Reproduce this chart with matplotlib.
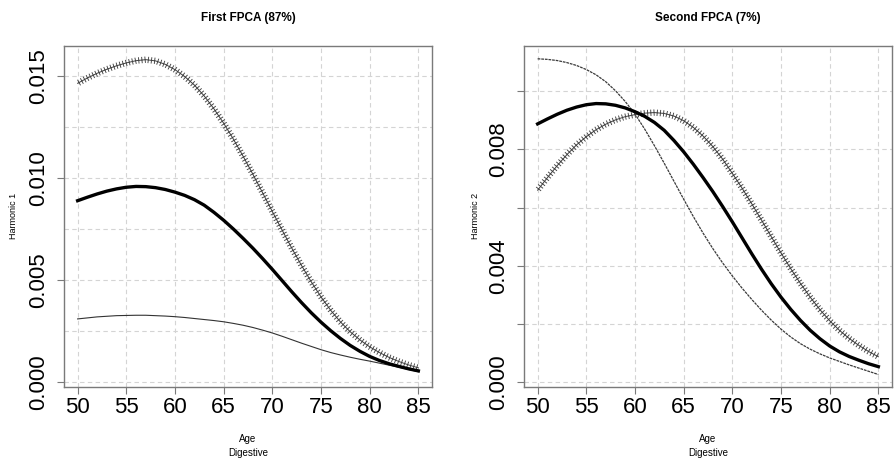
import matplotlib.pyplot as plt
import matplotlib.patheffects as pe

plt.rcParams['font.family'] = ['Liberation Sans', 'DejaVu Sans']

# ages 50..85, one value per year
age = list(range(50, 86))

mean_curve = [0.00888, 0.00905, 0.00921, 0.00935, 0.00946, 0.00954, 0.00958, 0.00957, 0.00952, 0.00943,
              0.00930, 0.00914, 0.00893, 0.00866, 0.00831, 0.00792, 0.00749, 0.00703, 0.00655, 0.00604,
              0.00551, 0.00496, 0.00441, 0.00388, 0.00338, 0.00292, 0.00250, 0.00212, 0.00178, 0.00149,
              0.00124, 0.00104, 0.00088, 0.00075, 0.00063, 0.00053]

# first harmonic: mean + / - perturbation
h1_plus = [0.01464, 0.01490, 0.01513, 0.01533, 0.01550, 0.01564, 0.01575, 0.01580, 0.01574, 0.01557,
           0.01531, 0.01497, 0.01455, 0.01402, 0.01339, 0.01268, 0.01190, 0.01106, 0.01018, 0.00927,
           0.00835, 0.00744, 0.00655, 0.00570, 0.00490, 0.00416, 0.00350, 0.00293, 0.00245, 0.00205,
           0.00171, 0.00143, 0.00119, 0.00099, 0.00082, 0.00068]
h1_minus = [0.00308, 0.00313, 0.00318, 0.00321, 0.00324, 0.00325, 0.00326, 0.00326, 0.00324, 0.00322,
            0.00319, 0.00315, 0.00310, 0.00305, 0.00300, 0.00294, 0.00286, 0.00277, 0.00266, 0.00253,
            0.00239, 0.00223, 0.00206, 0.00189, 0.00173, 0.00157, 0.00143, 0.00131, 0.00120, 0.00110,
            0.00101, 0.00091, 0.00081, 0.00071, 0.00060, 0.00049]

# second harmonic
h2_plus = [0.00660, 0.00703, 0.00744, 0.00782, 0.00816, 0.00844, 0.00868, 0.00887, 0.00902, 0.00913,
           0.00920, 0.00925, 0.00927, 0.00924, 0.00915, 0.00899, 0.00876, 0.00846, 0.00810, 0.00767,
           0.00718, 0.00667, 0.00613, 0.00557, 0.00500, 0.00444, 0.00390, 0.00339, 0.00292, 0.00249,
           0.00211, 0.00178, 0.00150, 0.00126, 0.00105, 0.00087]
h2_minus = [0.01112, 0.01110, 0.01106, 0.01099, 0.01089, 0.01075, 0.01057, 0.01033, 0.01002, 0.00965,
            0.00922, 0.00870, 0.00813, 0.00753, 0.00691, 0.00629, 0.00569, 0.00512, 0.00459, 0.00410,
            0.00365, 0.00323, 0.00284, 0.00247, 0.00213, 0.00182, 0.00155, 0.00132, 0.00113, 0.00097,
            0.00083, 0.00071, 0.00059, 0.00048, 0.00037, 0.00026]

x_ticks = [50, 55, 60, 65, 70, 75, 80, 85]
y1_ticks = [0.000, 0.005, 0.010, 0.015]
y1_labels = ["0.000", "0.005", "0.010", "0.015"]
y1_grid = [0.0, 0.0025, 0.005, 0.0075, 0.010, 0.0125, 0.015]
y2_ticks = [0.000, 0.002, 0.004, 0.006, 0.008, 0.010]
y2_labels = ["0.000", "", "0.004", "", "0.008", ""]

W, H = 896, 461


def frac(x0, y0, x1, y1):
    return [x0 / W, 1 - y1 / H, (x1 - x0) / W, (y1 - y0) / H]


def setup(ax, yticks, ylabels, ygrid, ylim):
    ax.set_xlim(48.6, 86.4)
    ax.set_ylim(*ylim)
    for v in x_ticks:
        ax.axvline(v, color="#d4d4d4", lw=0.8, ls=(0, (4, 3)), zorder=0)
    for v in ygrid:
        ax.axhline(v, color="#d4d4d4", lw=0.8, ls=(0, (4, 3)), zorder=0)
    ax.set_xticks(x_ticks)
    ax.set_yticks(yticks)
    ax.set_yticklabels(ylabels, rotation=90, va="center")
    for s in ax.spines.values():
        s.set_color("#7a7a7a")
        s.set_linewidth(1.0)
    ax.tick_params(axis="both", direction="out", length=5, width=0.8, color="#7a7a7a", labelsize=16)
    ax.tick_params(axis="x", pad=2)
    ax.tick_params(axis="y", pad=6)


def plus_line(ax, y):
    ticks = [
        pe.TickedStroke(spacing=2.3, angle=90, length=0.85, linewidth=0.65),
        pe.TickedStroke(spacing=2.3, angle=-90, length=0.85, linewidth=0.65),
        pe.Normal(),
    ]
    ax.plot(age, y, color="#404040", lw=0.7, path_effects=ticks, zorder=3)


fig = plt.figure(figsize=(W / 100, H / 100), dpi=100)
ax1 = fig.add_axes(frac(64, 46, 432, 387))
ax2 = fig.add_axes(frac(524, 46, 892, 387))

setup(ax1, y1_ticks, y1_labels, y1_grid, (-0.00026, 0.01647))
ax1.plot(age, mean_curve, color="black", lw=2.4, zorder=4)
plus_line(ax1, h1_plus)
ax1.plot(age, h1_minus, color="#333333", lw=0.8, zorder=3)

setup(ax2, y2_ticks, y2_labels, y2_ticks, (-0.00017, 0.01156))
ax2.plot(age, mean_curve, color="black", lw=2.4, zorder=4)
plus_line(ax2, h2_plus)
ax2.plot(age, h2_minus, color="#3a3a3a", lw=0.9, ls=(0, (2.2, 0.7)), zorder=3)

for cx, title, ylab, yx in [(248, "First FPCA (87%)", "Harmonic 1", 13), (708, "Second FPCA (7%)", "Harmonic 2", 475)]:
    fig.text(cx / W, 1 - 18 / H, title, ha="center", va="center", fontsize=8.5, fontweight="bold")
    fig.text(cx / W, 1 - 439 / H, "Age", ha="center", va="center", fontsize=7)
    fig.text(cx / W, 1 - 453 / H, "Digestive", ha="center", va="center", fontsize=7)
    fig.text(yx / W, 1 - 216 / H, ylab, ha="center", va="center", rotation=90, fontsize=6.5)

fig.savefig("out.png", dpi=100)
